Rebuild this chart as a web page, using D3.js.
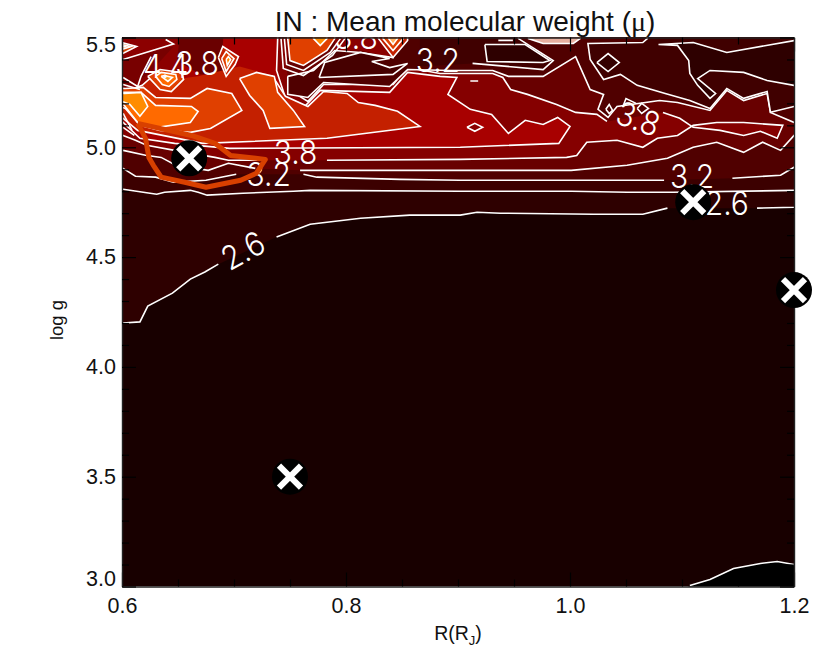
<!DOCTYPE html>
<html>
<head>
<meta charset="utf-8">
<script src="https://cdn.jsdelivr.net/npm/d3@7"></script>
<style>
  body { margin: 0; background: #fff; }
  text { font-family: "Liberation Sans", sans-serif; }
  text.contour-label { font-family: Inter, "Liberation Sans", sans-serif; font-weight: 300; }
</style>
</head>
<body>
<svg id="chart" width="830" height="664"></svg>
<script>
// contour levels, [R, log g], null = gap in the drawn line
const level23 = [[1.107,3.005],[1.125,3.032],[1.146,3.082],[1.170,3.105],[1.185,3.114],[1.200,3.100],[1.21,3.095],[1.21,2.98],[1.10,2.98]]
const level26 = [[.59,4.2],[.601,4.200],[.616,4.205],[.623,4.277],[.645,4.336],[.661,4.400],[.674,4.432],[.686,4.468],null,[.738,4.591],[.768,4.650],[.813,4.677],[.857,4.691],[.902,4.691],[.917,4.704],[.938,4.700],[1.021,4.695],[1.065,4.695],[1.087,4.723],null,[1.167,4.723],[1.200,4.727],[1.21,4.73],[1.21,5.6],[.59,5.6]]
const level29 = [[.59,4.81],[.601,4.809],[.619,4.795],[.631,4.786],[.638,4.795],[.661,4.804],[.668,4.795],[.676,4.782],[.708,4.791],[.753,4.800],[.768,4.804],[.902,4.800],[1.001,4.800],[1.051,4.795],[1.092,4.795],[1.200,4.804],[1.21,4.805],[1.21,5.6],[.59,5.6]]
const level32 = [[.59,4.92],[.601,4.904],[.612,4.868],[.630,4.864],[.646,4.841],[.675,4.850],[.702,4.877],null,[.762,4.877],[.774,4.864],[.848,4.854],[.902,4.850],[1.084,4.850],null,[1.145,4.859],[1.188,4.873],[1.200,4.909],[1.21,4.93],[1.21,5.6],[.59,5.6]]
const level35 = [[.59,5.0],[.601,4.986],[.621,4.964],[.635,4.954],[.648,4.918],[.677,4.895],[.695,4.927],[.719,4.904],null,[.759,4.895],[.902,4.895],[1.001,4.895],[1.051,4.918],[1.087,4.950],[1.110,5.000],[1.131,5.023],[1.155,4.977],[1.172,5.023],[1.188,4.986],[1.200,5.054],[1.21,5.08],[1.21,5.6],[.59,5.6]]
const level38 = [[.59,5.07],[.601,5.054],[.612,5.032],[.622,5.009],[.647,4.986],[.683,4.954],[.695,4.941],[.721,4.941],null,[.783,4.941],[.902,4.945],[.997,4.954],[1.006,4.963],[1.015,5.023],[1.042,5.032],[1.065,5.000],[1.078,5.041],[1.096,5.054],[1.110,5.100],[1.131,5.113],[1.155,5.113],[1.190,5.100],[1.185,5.041],[1.170,5.073],[1.155,5.054],[1.134,5.077],[1.110,5.091],[1.098,5.132],[1.083,5.159],null,[1.033,5.118],[1.024,5.150],[1.005,5.159],[.988,5.195],[.962,5.241],[.947,5.263],[.940,5.318],[.931,5.336],[.884,5.336],[.855,5.363],[.842,5.286],[.780,5.286],[.766,5.209],[.750,5.259],null,[.746,5.386],null,[.755,5.523],[.755,5.6],[.59,5.6]]
const level41 = [[.59,5.15],[.601,5.113],[.616,5.041],[.647,5.018],[.696,4.995],[.902,5.000],[.990,5.018],[1.000,5.095],[.989,5.136],[.976,5.104],[.960,5.123],[.945,5.063],[.930,5.150],[.911,5.173],[.891,5.241],[.899,5.318],[.884,5.323],[.855,5.341],[.839,5.250],[.777,5.259],[.763,5.186],[.746,5.223],[.738,5.350],[.739,5.495],[.739,5.6],[.59,5.6]]
const level44 = [[.59,5.13],[.601,5.132],[.614,5.077],[.672,5.018],[.783,5.041],[.866,5.095],[.846,5.164],[.826,5.191],[.811,5.204],[.801,5.245],[.780,5.254],[.766,5.186],[.746,5.232],[.734,5.327],null,[.705,5.368],null,[.668,5.323],null,[.653,5.313],[.630,5.336],[.618,5.282],[.601,5.250],[.59,5.25]]
const level47a = [[.59,5.27],[.603,5.268],[.619,5.273],[.630,5.227],[.661,5.223],[.676,5.268],[.698,5.245],[.707,5.168],[.679,5.086],[.661,5.068],[.634,5.077],[.616,5.100],[.603,5.177],[.59,5.2]]
const level47b = [[.705,5.313],[.720,5.341],[.736,5.323],[.739,5.250],[.753,5.168],[.763,5.095],[.732,5.086],[.726,5.168],[.714,5.236],[.705,5.313]]
const level47c = [[.748,5.6],[.748,5.495],[.750,5.395],[.762,5.373],[.783,5.441],[.790,5.495],[.79,5.6]]
const level50top = [[.771,5.6],[.771,5.495],[.777,5.463],[.783,5.495],[.783,5.6]]
const level50 = [[.59,5.25],[.617,5.250],[.630,5.191],[.662,5.186],[.668,5.163],[.661,5.113],[.632,5.091],[.614,5.113],[.602,5.191],[.59,5.23]]
const level53 = [[.59,5.25],[.602,5.245],[.617,5.250],[.623,5.186],[.616,5.141],[.607,5.195],[.59,5.23]]

// low pockets in the upper part
const holeA = [[.748,5.323],[.748,5.241],[.766,5.227],[.780,5.295],[.839,5.277],[.855,5.354],[.893,5.350],[.931,5.350],[.945,5.323],[.976,5.323],[1.005,5.413],[1.012,5.332],[1.018,5.263],[1.030,5.241],[1.025,5.173],[1.034,5.136],[1.042,5.186],[1.080,5.213],[1.096,5.204],[1.125,5.168],[1.140,5.259],[1.155,5.213],[1.176,5.245],[1.179,5.159],[1.200,5.113],[1.21,5.105],[1.21,5.6],[.86,5.6],[.848,5.495],[.842,5.409],[.813,5.432],[.790,5.441],[.771,5.350],[.748,5.323]]
const holeAInner = [[.776,5.318],[.781,5.386],[.813,5.432],[.839,5.404],[.823,5.391],[.839,5.363],[.855,5.382],[.842,5.332],[.776,5.318]]
const holeB = [[1.07,5.6],[1.069,5.495],[1.065,5.477],[1.016,5.473],[1.018,5.400],[1.030,5.309],[1.045,5.332],[1.060,5.282],[1.085,5.245],[1.107,5.213],[1.125,5.177],[1.140,5.268],[1.155,5.223],[1.176,5.254],[1.179,5.159],[1.200,5.186],[1.21,5.18],[1.21,5.6]]
const holeC = [[1.079,5.468],[1.096,5.464],[1.106,5.395],[1.107,5.336],[1.114,5.282],[1.125,5.223],[1.130,5.245],[1.114,5.313],[1.125,5.350],[1.155,5.341],[1.176,5.304],[1.200,5.282],[1.21,5.28],[1.21,5.49],[1.200,5.486],[1.140,5.432],[1.110,5.477],[1.079,5.468]]
const holeD = [[.866,5.368],null,[.913,5.382],[.976,5.354],[.985,5.395],[.954,5.495],[.954,5.6],[.866,5.6]]
const holeE = [[.924,5.468],[.960,5.468],[.982,5.395],[.976,5.386],[.926,5.391],[.924,5.468]]

// small closed rings
const ringA1 = [[.623,5.323],[.634,5.354],[.653,5.341],[.655,5.309],[.644,5.254],[.634,5.263],[.623,5.323]]
const ringA2 = [[.630,5.323],[.635,5.341],[.648,5.332],[.649,5.309],[.642,5.277],[.636,5.286],[.630,5.323]]
const ringA3 = [[.635,5.323],[.638,5.327],[.645,5.318],[.641,5.300],[.635,5.323]]
const ringB1 = [[.686,5.409],[.690,5.459],[.704,5.413],[.701,5.377],[.693,5.323],[.686,5.409]]
const ringB2 = [[.689,5.404],[.693,5.436],[.700,5.404],[.693,5.345],[.689,5.404]]
const ringB3 = [[.693,5.400],[.695,5.413],[.697,5.400],[.694,5.373],[.693,5.400]]
const ringC1 = [[.59,5.49],[.613,5.459],[.59,5.40]]
const ringC2 = [[.59,5.48],[.608,5.459],[.59,5.43]]
const ringC3 = [[.59,5.47],[.604,5.459],[.59,5.45]]
const ringD1 = [[.829,5.6],[.829,5.495],[.842,5.409],[.855,5.486],[.855,5.6]]
const ringD2 = [[.833,5.6],[.833,5.495],[.842,5.441],[.851,5.495],[.851,5.6]]
const ringD3 = [[.838,5.6],[.838,5.495],[.842,5.468],[.846,5.495],[.846,5.6]]
const ringE = [[.963,5.6],[.963,5.495],[.976,5.473],[1.003,5.473],[1.009,5.495],[1.009,5.6]]
const ringF = [[1.024,5.386],[1.034,5.427],[1.044,5.386],[1.034,5.345],[1.024,5.386]]
const ringG = [[1.032,5.173],[1.035,5.195],[1.038,5.168],[1.035,5.154],[1.032,5.173]]
const ringH = [[1.060,5.177],[1.064,5.200],[1.070,5.177],[1.064,5.154],[1.060,5.177]]
const ringI = [[.908,5.091],[.915,5.109],[.922,5.091],[.915,5.073],[.908,5.091]]

// fills with no line round them
const plainTopLeft = [[.59,5.6],[.653,5.6],[.653,5.32],[.63,5.33],[.618,5.28],[.59,5.25]]
const plainTopLeftLow = [[.59,5.39],[.646,5.459],[.625,5.341],[.607,5.268],[.59,5.25]]
const plainTopDark = [[.649,5.395],[.654,5.6],[.692,5.6],[.689,5.404],[.693,5.332],[.670,5.332]]
const plainTopMid = [[.79,5.6],[.829,5.6],[.842,5.409],[.813,5.441],[.79,5.441]]

// stray line pieces
const strayLines = [
  [[.601,5.154],[.609,5.077]],
  [[.601,5.091],[.611,5.054]],
  [[.601,5.318],[.614,5.277],[.617,5.323],[.626,5.413]],
  [[.601,5.286],[.616,5.263]],
  [[.601,5.400],[.646,5.470],[.639,5.491]],
  [[.745,5.495],[.747,5.377],[.762,5.350],[.786,5.432],[.795,5.495]],
  [[.742,5.495],[.744,5.359],[.762,5.327],[.788,5.418],[.799,5.495]],
  [[1.047,5.182],[1.050,5.222],[1.059,5.200]],
  [[.936,5.487],[.949,5.487]],
  [[.911,5.302],[.918,5.302]]
]

const loopCurve = [[.614,5.109],[.662,5.054],[.683,5.018],[.697,4.963],[.728,4.945],[.720,4.882],[.706,4.850],[.675,4.818],[.656,4.841],[.635,4.864],[.628,4.918],[.624,4.954],[.621,5.041],[.614,5.109]]

const planetsR = [0.66, 0.75, 1.11, 1.2]
const planetsLogg = [4.95, 3.5, 4.75, 4.35]

const xMajor = [0.6, 0.8, 1.0, 1.2]
const xMinor = [0.65, 0.7, 0.75, 0.85, 0.9, 0.95, 1.05, 1.1, 1.15]
const yMajor = [3.0, 3.5, 4.0, 4.5, 5.0, 5.5]
const yMinor = [3.1, 3.2, 3.3, 3.4, 3.6, 3.7, 3.8, 3.9, 4.1, 4.2, 4.3, 4.4, 4.6, 4.7, 4.8, 4.9, 5.1, 5.2, 5.3, 5.4]

const contourLabels = [
  {text: '2.6', R: .708, g: 4.53, rot: -29},
  {text: '3.8', R: .755, g: 4.98, rot: 0},
  {text: '3.2', R: .731, g: 4.88, rot: 0},
  {text: '3.2', R: 1.109, g: 4.87, rot: 0},
  {text: '2.6', R: 1.14, g: 4.745, rot: 0},
  {text: '3.8', R: 1.061, g: 5.13, rot: 20},
  {text: '4.4', R: .639, g: 5.37, rot: 0},
  {text: '3.8', R: .667, g: 5.385, rot: 0},
  {text: '3.8', R: .809, g: 5.5, rot: 0},
  {text: '3.2', R: .882, g: 5.395, rot: 0}
]

const margin = {left: 122, right: 794, top: 37.5, bottom: 586.5}
const svg = d3.select('#chart')

const x = d3.scaleLinear().domain([0.6, 1.2]).range([margin.left, margin.right])
const y = d3.scaleLinear().domain([3.0, 5.5]).range([margin.bottom, margin.top])

svg.append('clipPath').attr('id', 'plot-clip')
  .append('rect')
  .attr('x', margin.left).attr('y', margin.top)
  .attr('width', margin.right - margin.left).attr('height', margin.bottom - margin.top)

const plot = svg.append('g').attr('clip-path', 'url(#plot-clip)')

plot.append('rect')
  .attr('x', margin.left).attr('y', margin.top)
  .attr('width', margin.right - margin.left).attr('height', margin.bottom - margin.top)
  .attr('fill', '#180000')

const lineGen = d3.line().defined(d => d).x(d => x(d[0])).y(d => y(d[1]))

function drawFill(points, color) {
  plot.append('path')
    .attr('d', lineGen(points.filter(d => d)) + 'Z')
    .attr('fill', color)
}

function drawLine(points) {
  plot.append('path')
    .attr('d', lineGen(points))
    .attr('fill', 'none')
    .attr('stroke', '#fff')
    .attr('stroke-width', 1.6)
}

const bands = [
  [level23, '#000000'], [level26, '#2e0000'], [level29, '#3c0000'], [level32, '#500000'],
  [level35, '#680000'], [level38, '#850000'], [level41, '#a80000'],
  [plainTopLeft, '#8c0000', true], [plainTopLeftLow, '#780000', true], [plainTopDark, '#6a0000', true],
  [level44, '#c42000'], [level47a, '#e04000'], [level47b, '#e04000'], [level50, '#ff6a00'], [level53, '#ff8c00'],
  [plainTopMid, '#8a0000', true],
  [holeA, '#500000'], [holeAInner, '#460000'], [holeD, '#400000'], [holeE, '#2e0000'],
  [holeB, '#400000'], [holeC, '#2e0000'],
  [level47c, '#e04000'], [level50top, '#ff8c00'],
  [ringA1, '#e04000'], [ringA2, '#ff6a00'], [ringA3, '#ff9a20'],
  [ringB1, '#c42000'], [ringB2, '#e04000'], [ringB3, '#ff8c00'],
  [ringC1, '#d04000'], [ringC2, '#ff9040'], [ringC3, '#ffc090'],
  [ringD1, '#c42000'], [ringD2, '#e04000'], [ringD3, '#ffb060'],
  [ringE, '#e8b0a0'], [ringF, '#340000'], [ringG, '#500000'], [ringH, '#500000'], [ringI, '#8a0000']
]

bands.forEach(([points, color, plain]) => {
  drawFill(points, color)
  if (!plain) drawLine(points)
})
strayLines.forEach(drawLine)

// labels of the contours
plot.selectAll('text.contour-label')
  .data(contourLabels)
  .enter().append('text')
  .attr('class', 'contour-label')
  .attr('transform', d => `translate(${x(d.R)},${y(d.g)}) rotate(${d.rot}) scale(1,1.1)`)
  .attr('text-anchor', 'middle')
  .attr('dy', '0.36em')
  .attr('font-size', 30)
  .attr('fill', '#fff')
  .text(d => d.text)

plot.append('path')
  .attr('d', lineGen(loopCurve))
  .attr('fill', 'none')
  .attr('stroke', '#d84000')
  .attr('stroke-width', 5)
  .attr('stroke-linejoin', 'round')

// axes, all ticks point inward
function addAxis(axis, tx, ty, major, minor, labelled) {
  const fmt = labelled ? d3.format('.1f') : () => ''
  const a = svg.append('g').attr('transform', `translate(${tx},${ty})`)
  a.call(axis.tickValues(major).tickSizeInner(-14).tickSizeOuter(0).tickPadding(9).tickFormat(fmt))
  const b = svg.append('g').attr('transform', `translate(${tx},${ty})`)
  b.call(axis.tickValues(minor).tickSizeInner(-7).tickSizeOuter(0).tickFormat(''))
  b.select('.domain').remove()
  a.selectAll('.tick line').attr('stroke', '#000').attr('stroke-width', 1.2)
  b.selectAll('.tick line').attr('stroke', '#000').attr('stroke-width', 1.2)
  a.select('.domain').attr('stroke', '#222').attr('stroke-width', 1.4)
  a.selectAll('text').attr('font-size', 21.5).attr('font-family', '"Liberation Sans", sans-serif').attr('fill', '#111')
  return a
}

const bottomAxis = addAxis(d3.axisBottom(x), 0, margin.bottom, xMajor, xMinor, true)
addAxis(d3.axisTop(x), 0, margin.top, xMajor, xMinor, false)
const leftAxis = addAxis(d3.axisLeft(y), margin.left, 0, yMajor, yMinor, true)
addAxis(d3.axisRight(y), margin.right, 0, yMajor, yMinor, false)

// end labels sit a bit inside the axis range
leftAxis.selectAll('.tick text').attr('dy', d => d === 3.0 ? '-0.05em' : d === 5.5 ? '0.63em' : '0.32em').attr('x', -6)
bottomAxis.selectAll('.tick text').attr('y', 11)

// planets
const marks = svg.selectAll('g.planet')
  .data(planetsR.map((r, i) => [r, planetsLogg[i]]))
  .enter().append('g')
  .attr('class', 'planet')
  .attr('transform', d => `translate(${x(d[0])},${y(d[1])})`)

marks.append('circle').attr('r', 18).attr('fill', '#000')
marks.append('path')
  .attr('d', 'M-11,-11L11,11M-11,11L11,-11')
  .attr('stroke', '#fff')
  .attr('stroke-width', 6)

// titles
const title = svg.append('text')
  .attr('x', 465).attr('y', 31)
  .attr('text-anchor', 'middle')
  .attr('font-size', 28)
  .attr('fill', '#111')
title.append('tspan').text('IN : Mean molecular weight (')
title.append('tspan').attr('font-family', '"Liberation Serif", serif').text('μ')
title.append('tspan').text(')')

const xTitle = svg.append('text')
  .attr('x', 458).attr('y', 640)
  .attr('text-anchor', 'middle')
  .attr('font-size', 19.5)
  .attr('fill', '#111')
xTitle.append('tspan').text('R(R')
xTitle.append('tspan').attr('font-size', 13).attr('dy', 5).text('J')
xTitle.append('tspan').attr('dy', -5).text(')')

svg.append('text')
  .attr('transform', 'translate(63,320) rotate(-90)')
  .attr('text-anchor', 'middle')
  .attr('font-size', 18.5)
  .attr('fill', '#111')
  .text('log g')
</script>
</body>
</html>
